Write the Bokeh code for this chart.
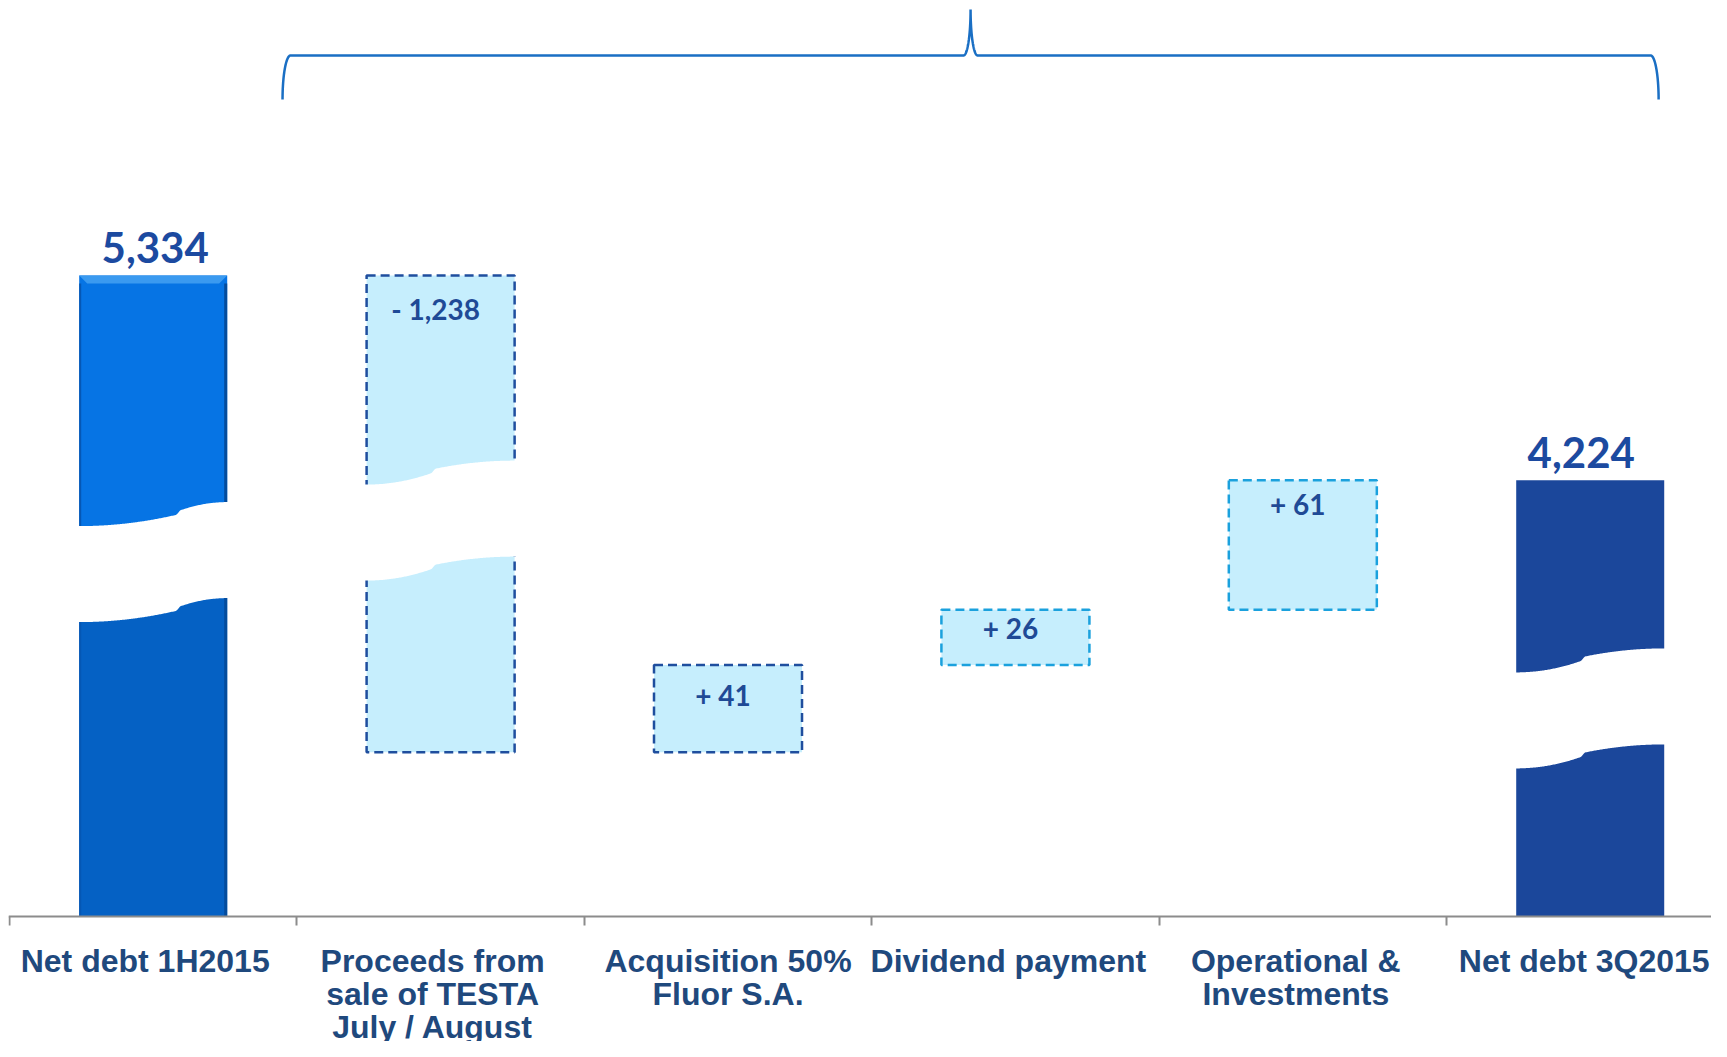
import numpy as np
from bokeh.plotting import figure
from bokeh.models import Range1d, LinearAxis, FixedTicker, ColumnDataSource
from bokeh.core.properties import value
from bokeh.embed import file_html
from bokeh.resources import INLINE

# ---------------- data ----------------
CATEGORIES = [
    "Net debt 1H2015",
    "Proceeds from\nsale of TESTA\nJuly / August",
    "Acquisition 50%\nFluor S.A.",
    "Dividend payment",
    "Operational &\nInvestments",
    "Net debt 3Q2015",
]
START_VALUE = 5334
DELTAS = [-1238, 41, 26, 61]
END_VALUE = 4224

# ---------------- broken value axis ----------------
# value ranges hidden by the axis breaks (the chart is not drawn to scale)
AXIS_CUTS = [(40.0, 4058.7), (4260.0, 5273.7)]
PX = 2.125                      # pixels per squeezed unit
Y_TOP = 908 / PX                # frame top
Y_BOTTOM = -125 / PX            # frame bottom (room for category labels)


def squeeze(v):
    v = np.asarray(v, dtype=float)
    out = v.copy()
    for lo, hi in AXIS_CUTS:
        out -= np.clip(v - lo, 0, hi - lo)
    return out


# ---------------- derived waterfall geometry ----------------
n = len(CATEGORIES)
centers = np.arange(n) + 0.5
BAR_W = 0.515

running = np.concatenate([[START_VALUE], START_VALUE + np.cumsum(DELTAS)])
d_bot = squeeze(np.minimum(running[:-1], running[1:]))
d_top = squeeze(np.maximum(running[:-1], running[1:]))
d_x = centers[1:1 + len(DELTAS)]

tot_x = np.array([centers[0], centers[-1]])
tot_top = squeeze([START_VALUE, END_VALUE])
tot_bot = squeeze([0, 0])

# break positions (fraction of each broken bar) and wave step position
BREAK_BARS = [0, 1, 5]
BREAK_FRAC = [0.553, 0.486, 0.477]
BREAK_STEP = [0.67, 0.45, 0.45]
GAP_C = 96 / PX
RISE_C = 24 / PX

bar_bot = np.concatenate([[tot_bot[0]], d_bot, [tot_bot[1]]])
bar_top = np.concatenate([[tot_top[0]], d_top, [tot_top[1]]])
break_center = {i: bar_bot[i] + f * (bar_top[i] - bar_bot[i]) for i, f in zip(BREAK_BARS, BREAK_FRAC)}


def edge_rise(u, us):
    a, b, w = 0.46, 0.67, 0.02
    r = np.empty_like(u)
    m1 = u <= us - w
    m3 = u >= us + w
    m2 = ~(m1 | m3)
    r[m1] = a * (u[m1] / (us - w)) ** 2
    t = (u[m2] - (us - w)) / (2 * w)
    r[m2] = a + (b - a) * t * t * (3 - 2 * t)
    r[m3] = b + (1 - b) * (1 - ((1 - u[m3]) / (1 - us - w)) ** 2)
    return r


brk_xs, brk_ys = [], []
for i, us in zip(BREAK_BARS, BREAK_STEP):
    u = np.linspace(-0.04, 1.04, 160)
    r = edge_rise(np.clip(u, 0, 1), us)
    xs = centers[i] - BAR_W / 2 + u * BAR_W
    c = break_center[i]
    lower = c - GAP_C / 2 + RISE_C * (r - 0.5)
    upper = c + GAP_C / 2 + RISE_C * (r - 0.5)
    brk_xs.append(np.concatenate([xs, xs[::-1]]))
    brk_ys.append(np.concatenate([lower, upper[::-1]]))

XPX = 287.4  # pixels per category

# ---------------- figure ----------------
p = figure(
    width=1711, height=1041,
    x_range=Range1d(-0.0035, 5.922), y_range=Range1d(Y_BOTTOM, Y_TOP),
    x_axis_type=None, y_axis_type=None,
    toolbar_location=None, output_backend="svg",
    min_border_left=8, min_border_right=0, min_border_top=8, min_border_bottom=0,
    outline_line_color=None, background_fill_color="white", border_fill_color="white",
)
p.xgrid.visible = False
p.ygrid.visible = False

# first total bar (two tones, upper brighter, with a bevel)
L0, R0 = centers[0] - BAR_W / 2, centers[0] + BAR_W / 2
c0 = break_center[0]
p.quad(left=[L0], right=[R0], bottom=[tot_bot[0]], top=[c0], fill_color="#0561C4", line_color=None)
p.quad(left=[L0], right=[R0], bottom=[c0], top=[tot_top[0]], fill_color="#0674E4", line_color=None)
bev = 8
p.patch([L0, R0, R0 - bev / XPX, L0 + bev / XPX], [tot_top[0]] * 2 + [tot_top[0] - bev / PX] * 2,
        fill_color="#3A9AF0", line_color=None)
p.quad(left=[R0 - 3 / XPX], right=[R0], bottom=[tot_bot[0]], top=[tot_top[0] - bev / PX],
       fill_color="#044C9C", line_color=None)
p.quad(left=[L0], right=[L0 + 2 / XPX], bottom=[tot_bot[0]], top=[tot_top[0] - bev / PX],
       fill_color="#0557B4", line_color=None)

# last total bar
p.quad(left=[centers[-1] - BAR_W / 2], right=[centers[-1] + BAR_W / 2], bottom=[tot_bot[1]], top=[tot_top[1]],
       fill_color="#1B479B", line_color=None)

# delta bars
dsrc = ColumnDataSource(dict(
    left=d_x - BAR_W / 2, right=d_x + BAR_W / 2, bottom=d_bot, top=d_top,
    line=["#1F4E9E", "#1F4E9E", "#1BA1DD", "#1BA1DD"],
))
p.quad(left="left", right="right", bottom="bottom", top="top", source=dsrc,
       fill_color="#C6EEFD", line_color="line", line_width=2.5, line_dash="9 5")

# axis breaks
p.patches(xs=brk_xs, ys=brk_ys, fill_color="white", line_color=None)

# value labels
tot_lbl = [f"{v:,}" for v in (START_VALUE, END_VALUE)]
p.text(x=tot_x, y=tot_top, text=tot_lbl, text_font=value("Lato"), text_font_style="bold",
       text_font_size="42px", text_color="#1C4AA0", text_align="center", text_baseline="middle",
       x_offset=[2, -9], y_offset=-28)

d_lbl = [f"{'+' if d > 0 else '-'} {abs(d):,}" for d in DELTAS]
p.text(x=d_x, y=d_top, text=d_lbl, text_font=value("Lato"), text_font_style="bold",
       text_font_size="28px", text_color="#1F4A96", text_align="center", text_baseline="middle",
       x_offset=-5, y_offset=[33, 30, 18, 24])

# bracket over the movements
xl, xr = 0.950, 5.738
xc = (xl + xr) / 2
yb, yh, yp = 384.5, 405.2, 426.8
rx1, rx2 = 8 / XPX, 7 / XPX
th = np.linspace(0, np.pi / 2, 40)
bx = np.concatenate([
    xl + rx1 - rx1 * np.cos(th),
    xc - rx2 + rx2 * np.sin(th),
    (xc + rx2 - rx2 * np.sin(th))[::-1],
    (xr - rx1 + rx1 * np.cos(th))[::-1],
])
by = np.concatenate([
    yb + (yh - yb) * np.sin(th),
    yp - (yp - yh) * np.cos(th),
    (yp - (yp - yh) * np.cos(th))[::-1],
    (yb + (yh - yb) * np.sin(th))[::-1],
])
p.line(bx, by, line_color="#1A6FC4", line_width=2.5)

# category axis at value 0, ticks at category boundaries pointing down
ax = LinearAxis(ticker=FixedTicker(ticks=list(range(n + 1))), fixed_location=0)
ax.axis_line_color = "#8C8C8C"
ax.axis_line_width = 2
ax.major_tick_line_color = "#8C8C8C"
ax.major_tick_line_width = 2
ax.major_tick_out = 0
ax.major_tick_in = 9
ax.minor_tick_line_color = None
ax.major_label_text_font_size = "0px"
ax.major_label_standoff = 0
ax.major_label_overrides = {i: "" for i in range(n + 1)}
p.add_layout(ax, "above")

# category labels under the axis
p.text(x=centers, y=np.full(n, -26 / PX), text=CATEGORIES, text_align="center", text_baseline="top",
       text_font=value("Liberation Sans"), text_font_style="bold", text_font_size="32px",
       text_color="#1F497D", text_line_height=0.922, x_offset=[-8, -8, 0, -7, -7, -6])

open("out.html", "w").write(file_html(p, INLINE))
